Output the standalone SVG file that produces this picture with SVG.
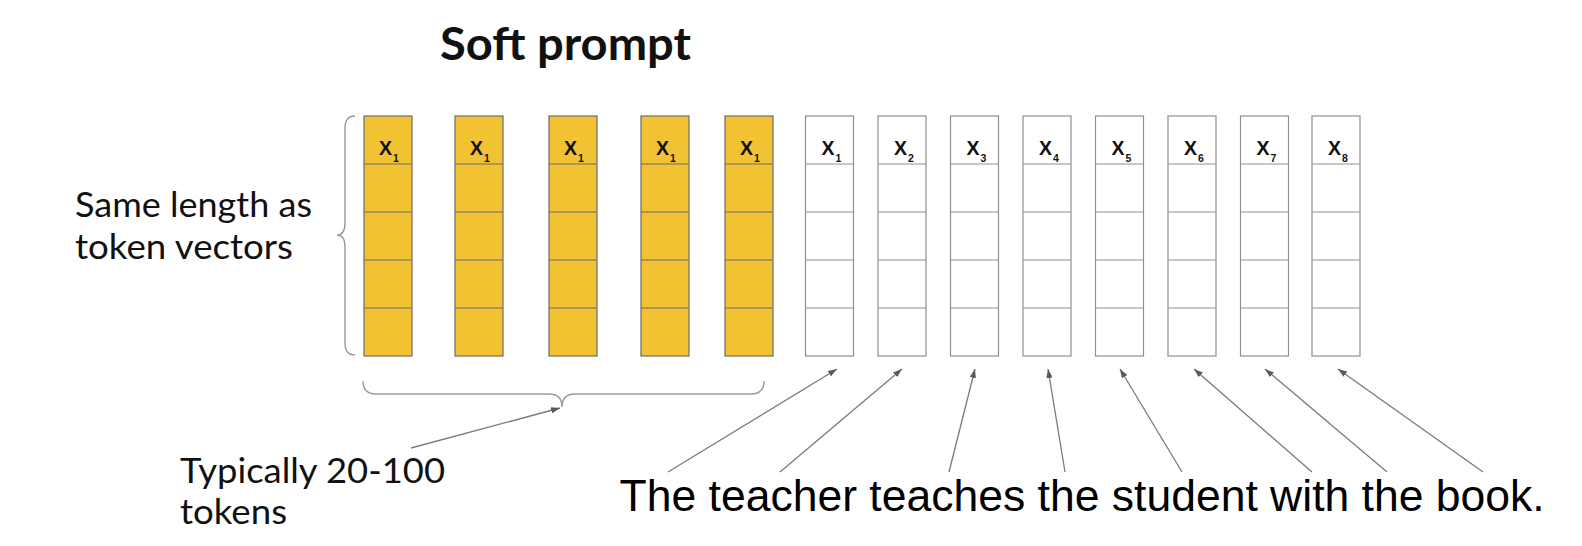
<svg xmlns="http://www.w3.org/2000/svg" width="1582" height="546" viewBox="0 0 1582 546">
<style>
.bg{fill:#ffffff}
.ycol{fill:#f1c232;stroke:#6b6b6b;stroke-width:1.2}
.wcol{fill:#ffffff;stroke:#8f8f8f;stroke-width:1.2}
.ydiv{stroke:#6b6b6b;stroke-width:1.2}
.wdiv{stroke:#8f8f8f;stroke-width:1.2}
.xl{font-family:"Liberation Sans",Arial,sans-serif;font-size:19.5px;font-weight:bold;fill:#111}
.xs{font-family:"Liberation Sans",Arial,sans-serif;font-size:10.5px;font-weight:bold;fill:#111}
.lato{font-family:Lato,"Liberation Sans",sans-serif;fill:#111}
.sent{font-family:"Liberation Sans",Arial,sans-serif;font-size:44.5px;fill:#000}
.conn{fill:none;stroke:#7a7a7a;stroke-width:1.3}
.brace{fill:none;stroke:#9a9a9a;stroke-width:1.4}
</style>
<defs>
<marker id="ah" viewBox="0 0 10 7" refX="10" refY="3.5" markerWidth="9" markerHeight="6.3" markerUnits="userSpaceOnUse" orient="auto">
<path d="M0,0 L10,3.5 L0,7 z" fill="#5a5a5a"/>
</marker>
<g id="ycolshape">
<rect class="ycol" x="0" y="0" width="48" height="240"/>
<line class="ydiv" x1="0" y1="48" x2="48" y2="48"/>
<line class="ydiv" x1="0" y1="96" x2="48" y2="96"/>
<line class="ydiv" x1="0" y1="144" x2="48" y2="144"/>
<line class="ydiv" x1="0" y1="192" x2="48" y2="192"/>
</g>
<g id="wcolshape">
<rect class="wcol" x="0" y="0" width="48" height="240"/>
<line class="wdiv" x1="0" y1="48" x2="48" y2="48"/>
<line class="wdiv" x1="0" y1="96" x2="48" y2="96"/>
<line class="wdiv" x1="0" y1="144" x2="48" y2="144"/>
<line class="wdiv" x1="0" y1="192" x2="48" y2="192"/>
</g>
</defs>
<rect class="bg" x="0" y="0" width="1582" height="546"/>

<g id="title"><text class="lato" x="440" y="60" font-size="46" font-weight="bold" textLength="251" lengthAdjust="spacingAndGlyphs">Soft prompt</text></g>

<g id="label-same-length">
<text class="lato" x="75" y="217" font-size="34" textLength="237" lengthAdjust="spacingAndGlyphs">Same length as</text>
<text class="lato" x="75" y="259" font-size="34" textLength="218" lengthAdjust="spacingAndGlyphs">token vectors</text>
</g>
<g id="label-typically">
<text class="lato" x="180" y="483" font-size="34" textLength="265" lengthAdjust="spacingAndGlyphs">Typically 20-100</text>
<text class="lato" x="180" y="524" font-size="34" textLength="107" lengthAdjust="spacingAndGlyphs">tokens</text>
</g>
<g id="sentence"><text class="sent" x="619.5" y="511">The teacher teaches the student with the book.</text></g>

<g id="soft-1" transform="translate(364,116)"><use href="#ycolshape"/><text class="xl" x="15" y="39">X</text><text class="xs" x="29" y="46">1</text></g>
<g id="soft-2" transform="translate(455,116)"><use href="#ycolshape"/><text class="xl" x="15" y="39">X</text><text class="xs" x="29" y="46">1</text></g>
<g id="soft-3" transform="translate(549,116)"><use href="#ycolshape"/><text class="xl" x="15" y="39">X</text><text class="xs" x="29" y="46">1</text></g>
<g id="soft-4" transform="translate(641,116)"><use href="#ycolshape"/><text class="xl" x="15" y="39">X</text><text class="xs" x="29" y="46">1</text></g>
<g id="soft-5" transform="translate(725,116)"><use href="#ycolshape"/><text class="xl" x="15" y="39">X</text><text class="xs" x="29" y="46">1</text></g>

<g id="tok-1" transform="translate(805.5,116)"><use href="#wcolshape"/><text class="xl" x="16" y="39">X</text><text class="xs" x="30" y="46">1</text></g>
<g id="tok-2" transform="translate(878,116)"><use href="#wcolshape"/><text class="xl" x="16" y="39">X</text><text class="xs" x="30" y="46">2</text></g>
<g id="tok-3" transform="translate(950.5,116)"><use href="#wcolshape"/><text class="xl" x="16" y="39">X</text><text class="xs" x="30" y="46">3</text></g>
<g id="tok-4" transform="translate(1023,116)"><use href="#wcolshape"/><text class="xl" x="16" y="39">X</text><text class="xs" x="30" y="46">4</text></g>
<g id="tok-5" transform="translate(1095.5,116)"><use href="#wcolshape"/><text class="xl" x="16" y="39">X</text><text class="xs" x="30" y="46">5</text></g>
<g id="tok-6" transform="translate(1168,116)"><use href="#wcolshape"/><text class="xl" x="16" y="39">X</text><text class="xs" x="30" y="46">6</text></g>
<g id="tok-7" transform="translate(1240.5,116)"><use href="#wcolshape"/><text class="xl" x="16" y="39">X</text><text class="xs" x="30" y="46">7</text></g>
<g id="tok-8" transform="translate(1312,116)"><use href="#wcolshape"/><text class="xl" x="16" y="39">X</text><text class="xs" x="30" y="46">8</text></g>

<g id="braces">
<path class="brace" d="M355,116 Q345,116 345,128 L345,223 Q345,235 337,235 Q345,235 345,247 L345,343 Q345,355 355,355"/>
<path class="brace" d="M363,381 Q363,394 376,394 L549,394 Q562,394 562,407 Q562,394 575,394 L751,394 Q764,394 764,381"/>
</g>

<g id="connectors">
<line class="conn" x1="411" y1="448" x2="560" y2="408" marker-end="url(#ah)"/>
<line class="conn" x1="668" y1="472" x2="837" y2="369" marker-end="url(#ah)"/>
<line class="conn" x1="780" y1="472" x2="902" y2="369" marker-end="url(#ah)"/>
<line class="conn" x1="949" y1="472" x2="975" y2="369" marker-end="url(#ah)"/>
<line class="conn" x1="1065" y1="472" x2="1048" y2="369" marker-end="url(#ah)"/>
<line class="conn" x1="1182" y1="472" x2="1120" y2="369" marker-end="url(#ah)"/>
<line class="conn" x1="1312" y1="472" x2="1194" y2="369" marker-end="url(#ah)"/>
<line class="conn" x1="1387" y1="472" x2="1265" y2="369" marker-end="url(#ah)"/>
<line class="conn" x1="1483" y1="472" x2="1338" y2="369" marker-end="url(#ah)"/>
</g>
</svg>
